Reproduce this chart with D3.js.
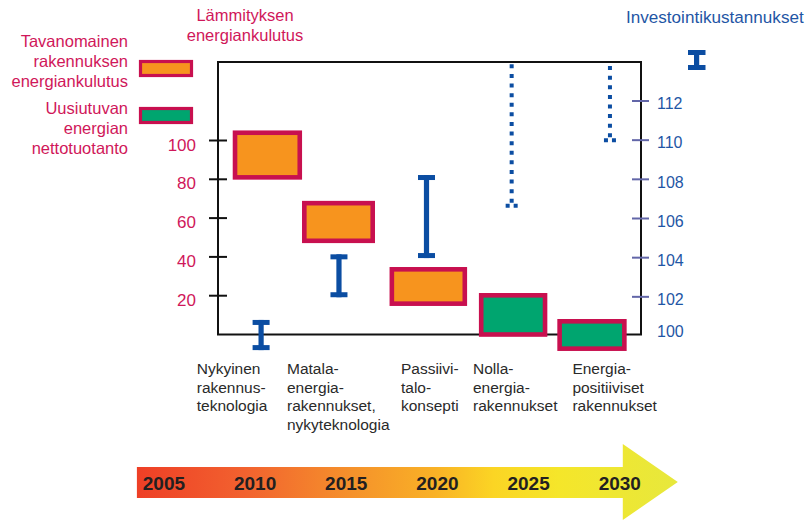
<!DOCTYPE html>
<html><head><meta charset="utf-8">
<script src="https://cdn.jsdelivr.net/npm/d3@7"></script>
<style>html,body{margin:0;padding:0;background:#fff;} svg{display:block;font-family:"Liberation Sans",Arial,Helvetica,sans-serif;}</style>
</head><body><svg id="chart" width="809" height="521"></svg>
<script>
// ---------- data ----------
const categoryLabels = [
  ["Nykyinen", "rakennus-", "teknologia"],
  ["Matala-", "energia-", "rakennukset,", "nykyteknologia"],
  ["Passiivi-", "talo-", "konsepti"],
  ["Nolla-", "energia-", "rakennukset"],
  ["Energia-", "positiiviset", "rakennukset"]
];
const labelYear = [2006.8, 2011.75, 2018.0, 2021.95, 2027.4];
const periodStart = [2008.9, 2012.7, 2017.5, 2022.4, 2026.7];
const periodEnd = [2012.45, 2016.45, 2021.5, 2025.9, 2030.25];
const consumptionLow = [81, 48.3, 15.9, 0, -7.3];
const consumptionHigh = [104, 67.7, 33.6, 20.2, 6.8];
const boxType = ["conventional", "conventional", "conventional", "renewable", "renewable"];
const costYear = [2010.33, 2014.6, 2019.4, 2024.07, 2029.46];
const costLow = [99.28, 101.98, 103.98, 106.55, 109.89];
const costHigh = [100.82, 104.17, 108.22, 115, 115];
const costOpen = [false, false, false, true, true];
const leftTicks = [20, 40, 60, 80, 100];
const rightTicks = [100, 102, 104, 106, 108, 110, 112];
const timelineYears = [2005, 2010, 2015, 2020, 2025, 2030];
const legendHeat = ["Lämmityksen", "energiankulutus"];
const legendConventional = ["Tavanomainen", "rakennuksen", "energiankulutus"];
const legendRenewable = ["Uusiutuvan", "energian", "nettotuotanto"];
const legendCost = "Investointikustannukset";

// ---------- style ----------
const CRIMSON_TEXT = "#d0175a", CRIMSON = "#c8104f", ORANGE = "#f7941e", GREEN = "#00a56f";
const BLUE = "#0b4da2", BLUE_TEXT = "#1f56a5", TICK_BLUE = "#6266a8", DARK = "#2a2a2a";
const fill = {conventional: ORANGE, renewable: GREEN};

const svg = d3.select("#chart");
const x = d3.scaleLinear().domain([2005, 2030]).range([163.9, 619.8]);
const yL = d3.scaleLinear().domain([0, 100]).range([334.5, 140.5]);
const yR = d3.scaleLinear().domain([100, 112]).range([336, 101]);
const frame = {left: 218, right: 641, top: 62, bottom: 334.5};

// clip for open-ended cost bars
svg.append("defs").append("clipPath").attr("id", "topclip")
  .append("rect").attr("x", 0).attr("y", frame.top + 1).attr("width", 809).attr("height", 500);

// frame
svg.append("rect").attr("x", frame.left).attr("y", frame.top)
  .attr("width", frame.right - frame.left).attr("height", frame.bottom - frame.top)
  .attr("fill", "none").attr("stroke", "#111").attr("stroke-width", 2);

// left ticks
const lt = svg.append("g").selectAll("g").data(leftTicks).join("g");
lt.append("line").attr("x1", frame.left - 9).attr("x2", frame.left + 9)
  .attr("y1", d => yL(d)).attr("y2", d => yL(d)).attr("stroke", "#111").attr("stroke-width", 2);
lt.append("text").attr("x", 196).attr("y", d => yL(d) + 10).attr("text-anchor", "end")
  .attr("font-size", 17).attr("fill", CRIMSON_TEXT).text(d => d);

// right ticks
const rt = svg.append("g").selectAll("g").data(rightTicks).join("g");
rt.filter(d => d !== 100).append("line").attr("x1", frame.right - 9).attr("x2", frame.right + 8)
  .attr("y1", d => yR(d)).attr("y2", d => yR(d)).attr("stroke", TICK_BLUE).attr("stroke-width", 2);
rt.append("text").attr("x", 657).attr("y", d => d === 100 ? yR(d) + 1 : yR(d) + 8.3)
  .attr("font-size", 16).attr("fill", BLUE_TEXT).text(d => d);

// boxes
const idx = d3.range(categoryLabels.length);
svg.append("g").selectAll("rect").data(idx).join("rect")
  .attr("x", i => x(periodStart[i])).attr("width", i => x(periodEnd[i]) - x(periodStart[i]))
  .attr("y", i => yL(consumptionHigh[i])).attr("height", i => yL(consumptionLow[i]) - yL(consumptionHigh[i]))
  .attr("fill", i => fill[boxType[i]]).attr("stroke", CRIMSON).attr("stroke-width", 4.6);

// cost bars (closed)
const cb = svg.append("g").selectAll("g").data(idx.filter(i => !costOpen[i])).join("g").attr("fill", BLUE);
cb.append("rect").attr("x", i => x(costYear[i]) - 2.6).attr("width", 5.2)
  .attr("y", i => yR(costHigh[i])).attr("height", i => yR(costLow[i]) - yR(costHigh[i]));
cb.append("rect").attr("x", i => x(costYear[i]) - 8.5).attr("width", 17)
  .attr("y", i => yR(costHigh[i])).attr("height", 5);
cb.append("rect").attr("x", i => x(costYear[i]) - 8.5).attr("width", 17)
  .attr("y", i => yR(costLow[i]) - 5).attr("height", 5);

// cost bars (open, dotted)
const ob = svg.append("g").attr("clip-path", "url(#topclip)").selectAll("g")
  .data(idx.filter(i => costOpen[i])).join("g");
ob.append("line").attr("x1", i => x(costYear[i])).attr("x2", i => x(costYear[i]))
  .attr("y1", i => yR(costLow[i]) - 5).attr("y2", i => yR(costHigh[i]))
  .attr("stroke", BLUE).attr("stroke-width", 4).attr("stroke-dasharray", "4,5.6");
ob.append("line").attr("x1", i => x(costYear[i]) - 6).attr("x2", i => x(costYear[i]) + 6)
  .attr("y1", i => yR(costLow[i]) - 2).attr("y2", i => yR(costLow[i]) - 2)
  .attr("stroke", BLUE).attr("stroke-width", 4).attr("stroke-dasharray", "4,4");

// category labels
const cl = svg.append("g").selectAll("text").data(idx).join("text")
  .attr("font-size", 15.5).attr("fill", DARK);
cl.selectAll("tspan").data(i => categoryLabels[i].map(t => ({t, i}))).join("tspan")
  .attr("x", d => x(labelYear[d.i])).attr("y", (d, k) => 374 + k * 18.5).text(d => d.t);

// legends
svg.append("text").attr("font-size", 16.5).attr("fill", CRIMSON_TEXT).attr("text-anchor", "middle")
  .selectAll("tspan").data(legendHeat).join("tspan").attr("x", 245).attr("y", (d, k) => 21 + k * 20).text(d => d);
svg.append("text").attr("font-size", 16.5).attr("fill", CRIMSON_TEXT).attr("text-anchor", "end")
  .selectAll("tspan").data(legendConventional).join("tspan").attr("x", 128).attr("y", (d, k) => 47 + k * 19.8).text(d => d);
svg.append("text").attr("font-size", 16.5).attr("fill", CRIMSON_TEXT).attr("text-anchor", "end")
  .selectAll("tspan").data(legendRenewable).join("tspan").attr("x", 128).attr("y", (d, k) => 113.5 + k * 20.3).text(d => d);
svg.append("rect").attr("x", 140.5).attr("y", 61.5).attr("width", 51).attr("height", 14)
  .attr("fill", ORANGE).attr("stroke", CRIMSON).attr("stroke-width", 3.2);
svg.append("rect").attr("x", 140.5).attr("y", 108.5).attr("width", 51).attr("height", 14)
  .attr("fill", GREEN).attr("stroke", CRIMSON).attr("stroke-width", 3.2);
svg.append("text").attr("x", 626).attr("y", 23).attr("font-size", 17.1).attr("fill", BLUE_TEXT).text(legendCost);
const li = svg.append("g").attr("fill", BLUE);
li.append("rect").attr("x", 694).attr("y", 50).attr("width", 5.2).attr("height", 20);
li.append("rect").attr("x", 688).attr("y", 50).attr("width", 17.5).attr("height", 5);
li.append("rect").attr("x", 688).attr("y", 65).attr("width", 17.5).attr("height", 5);

// timeline arrow
const bx0 = x(2005) - 27, bx1 = x(2030) + 3, tip = x(2030) + 58;
const grad = svg.select("defs").append("linearGradient").attr("id", "tl")
  .attr("gradientUnits", "userSpaceOnUse").attr("x1", bx0).attr("x2", tip).attr("y1", 0).attr("y2", 0);
[[0, "#ee3f26"], [0.2, "#f2622f"], [0.4, "#f5922b"], [0.55, "#f9b126"], [0.66, "#fbd524"], [0.78, "#f5e62a"], [1, "#e7e83c"]]
  .forEach(([o, c]) => grad.append("stop").attr("offset", o).attr("stop-color", c));
svg.append("path").attr("fill", "url(#tl)")
  .attr("d", `M${bx0},467 L${bx1},467 L${bx1},444 L${tip},482 L${bx1},520 L${bx1},498 L${bx0},498 Z`);
svg.append("g").selectAll("text").data(timelineYears).join("text")
  .attr("x", d => x(d)).attr("y", 489.5).attr("text-anchor", "middle")
  .attr("font-size", 19).attr("font-weight", "bold").attr("fill", "#231f20").text(d => d);
</script></body></html>
